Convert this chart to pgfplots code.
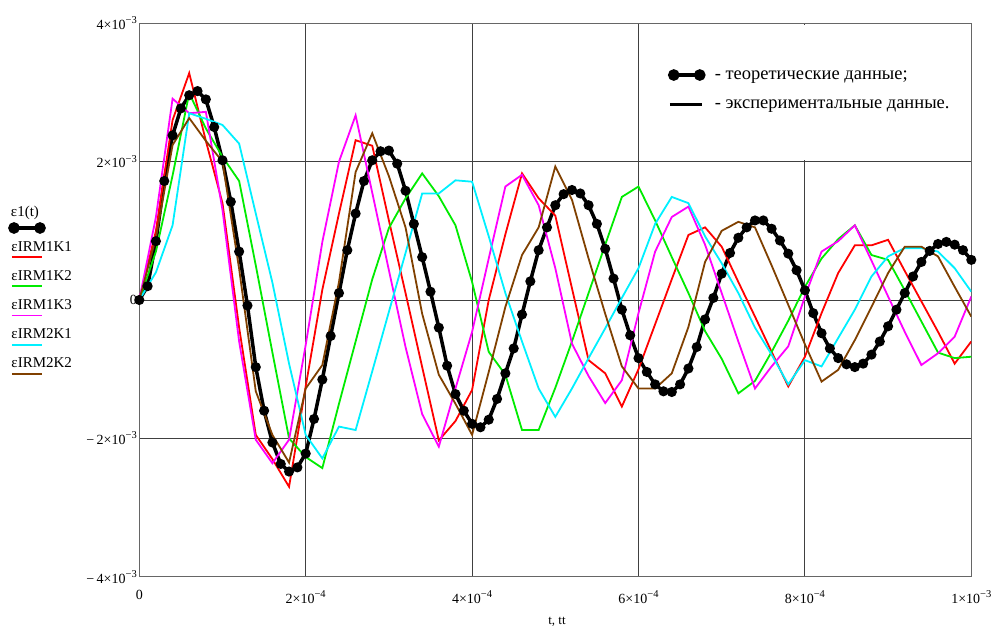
\documentclass[border=0pt]{standalone}
\usepackage{fontspec}
\setmainfont{Liberation Serif}
\usepackage{pgfplots}
\usepackage{pgfplotstable}
\pgfplotsset{compat=1.18}

\definecolor{cred}{RGB}{255,0,0}
\definecolor{cgreen}{RGB}{0,235,0}
\definecolor{cmag}{RGB}{255,0,255}
\definecolor{ccyan}{RGB}{0,240,255}
\definecolor{cbrown}{RGB}{128,64,0}

\newcommand{\sups}[1]{\raisebox{0.42em}{\fontsize{10.5}{10.5}\selectfont #1}}

% t in units of 1e-4, values in units of 1e-3
\pgfplotstableread{
t v
0 0
0.1 0.2
0.2 0.85
0.3 1.72
0.4 2.38
0.5 2.77
0.6 2.96
0.7 3.02
0.8 2.9
0.9 2.5
1.0 2.02
1.1 1.42
1.2 0.7
1.3 -0.08
1.4 -0.97
1.5 -1.6
1.6 -2.06
1.7 -2.37
1.8 -2.48
1.9 -2.42
2.0 -2.22
2.1 -1.72
2.2 -1.15
2.3 -0.52
2.4 0.1
2.5 0.72
2.6 1.25
2.7 1.72
2.8 2.02
2.9 2.15
3.0 2.16
3.1 1.97
3.2 1.58
3.3 1.1
3.4 0.62
3.5 0.12
3.6 -0.4
3.7 -0.95
3.8 -1.36
3.9 -1.6
4.0 -1.79
4.1 -1.84
4.2 -1.73
4.3 -1.43
4.4 -1.06
4.5 -0.7
4.6 -0.21
4.7 0.27
4.8 0.72
4.9 1.05
5.0 1.37
5.1 1.53
5.2 1.59
5.3 1.54
5.4 1.37
5.5 1.1
5.6 0.74
5.7 0.31
5.8 -0.14
5.9 -0.51
6.0 -0.84
6.1 -1.04
6.2 -1.22
6.3 -1.32
6.4 -1.33
6.5 -1.22
6.6 -0.99
6.7 -0.68
6.8 -0.28
6.9 0.03
7.0 0.38
7.1 0.68
7.2 0.9
7.3 1.05
7.4 1.15
7.5 1.15
7.6 1.03
7.7 0.86
7.8 0.67
7.9 0.43
8.0 0.14
8.1 -0.19
8.2 -0.48
8.3 -0.7
8.4 -0.84
8.5 -0.93
8.6 -0.97
8.7 -0.92
8.8 -0.79
8.9 -0.6
9.0 -0.38
9.1 -0.14
9.2 0.1
9.3 0.34
9.4 0.55
9.5 0.71
9.6 0.81
9.7 0.84
9.8 0.8
9.9 0.72
10.0 0.58
}\theory

\pgfplotstableread{
t r g m c b
0 0 0 0 0 0
0.2 1.0 0.7 1.2 0.4 0.9
0.4 2.6 1.8 2.91 1.08 2.24
0.6 3.28 2.99 2.70 2.70 2.63
0.8 2.3 2.48 2.72 2.62 2.3
1.0 1.4 2.07 1.3 2.53 2.0
1.2 -0.4 1.72 -0.6 2.26 0.45
1.4 -1.95 0.5 -2.02 1.25 -1.32
1.6 -2.3 -0.76 -2.36 0.25 -1.95
1.8 -2.70 -2.0 -2.02 -0.92 -2.35
2.0 -1.25 -2.27 -0.65 -1.95 -1.28
2.2 0.15 -2.43 0.84 -2.29 -0.94
2.4 1.25 -1.5 2.0 -1.83 0.26
2.6 2.31 -0.6 2.67 -1.88 1.85
2.8 2.23 0.3 1.55 -1.03 2.41
3.0 1.15 1.04 0.43 -0.17 1.79
3.2 0.1 1.47 -0.68 0.68 1.05
3.4 -0.97 1.83 -1.65 1.54 -0.2
3.6 -2.03 1.5 -2.12 1.54 -1.08
3.8 -1.75 1.08 -1.28 1.73 -1.5
4.0 -1.30 0.26 -0.46 1.71 -1.95
4.2 0.0 -0.75 0.6 0.92 -1.04
4.4 0.95 -1.08 1.64 0.1 -0.1
4.6 1.83 -1.88 1.81 -0.6 0.65
4.8 1.47 -1.88 1.37 -1.28 1.05
5.0 1.22 -1.27 0.46 -1.69 1.93
5.2 0.17 -0.6 -0.63 -1.28 1.45
5.4 -0.87 0.1 -1.1 -0.84 0.6
5.6 -1.06 0.8 -1.49 -0.41 -0.2
5.8 -1.54 1.49 -1.16 0.03 -0.96
6.0 -1.0 1.64 -0.19 0.46 -1.28
6.2 -0.35 1.15 0.7 1.1 -1.28
6.4 0.3 0.62 1.2 1.49 -1.06
6.6 0.94 0.1 1.35 1.4 -0.39
6.8 1.05 -0.45 0.8 0.92 0.55
7.0 0.77 -0.85 0.1 0.53 1.0
7.2 0.26 -1.35 -0.6 0.1 1.13
7.4 -0.24 -1.17 -1.28 -0.4 1.05
7.6 -0.75 -0.75 -0.96 -0.79 0.5
7.8 -1.25 -0.3 -0.67 -1.22 -0.07
8.0 -0.82 0.19 0.05 -0.87 -0.64
8.2 -0.19 0.6 0.70 -0.96 -1.18
8.4 0.39 0.88 0.85 -0.55 -1.01
8.6 0.79 1.08 1.08 -0.14 -0.58
8.8 0.79 0.65 0.57 0.34 -0.1
9.0 0.87 0.58 0.05 0.63 0.39
9.2 0.42 0.14 -0.46 0.75 0.77
9.4 -0.02 -0.31 -0.94 0.75 0.77
9.6 -0.46 -0.76 -0.77 0.70 0.63
9.8 -0.92 -0.84 -0.53 0.46 0.19
10.0 -0.6 -0.82 0.05 0.12 -0.24
}\expdata

\begin{document}
\begin{tikzpicture}
\begin{axis}[
  at={(139.3pt,51.3pt)}, anchor=south west,
  scale only axis, width=832pt, height=553.4pt,
  xmin=0, xmax=10, ymin=-4, ymax=4,
  xtick={0,2,4,6,8,10},
  ytick={-4,-2,0,2,4},
  xticklabels={\mbox{0},
    \mbox{2×10\sups{−4}},
    \mbox{4×10\sups{−4}},
    \mbox{6×10\sups{−4}},
    \mbox{8×10\sups{−4}},
    \mbox{1×10\sups{−3}}},
  yticklabels={\mbox{−\,4×10\sups{−3}},
    \mbox{−\,2×10\sups{−3}},
    \mbox{0},
    \mbox{2×10\sups{−3}},
    \mbox{4×10\sups{−3}}},
  grid=major,
  major grid style={draw=black!75, line width=0.9pt},
  axis line style={draw=black!60, line width=1.5pt},
  major tick length=0pt,
  tick label style={font=\rmfamily\fontsize{14}{16}\selectfont},
  xticklabel style={anchor=north, yshift=-10pt},
  yticklabel style={anchor=east, xshift=1pt},
  xlabel={t, tt},
  xlabel style={at={(rel axis cs:0.502,0)}, anchor=center, yshift=-45pt, font=\rmfamily\fontsize{13}{15}\selectfont},
  legend cell align=left,
  legend style={at={(rel axis cs:0.6355,0.9210)}, anchor=north west,
    draw=none, fill=none, inner sep=0pt, outer sep=0pt,
    row sep=13.5pt, column sep=11pt,
    font=\rmfamily\fontsize{18.5}{21}\selectfont,
    nodes={inner sep=0pt, anchor=west, text height=12pt, text depth=4pt}},
]
\addplot[black, line width=3.5pt, mark=*, mark size=3.2pt,
  legend image code/.code={\draw[black, line width=3.5pt, mark=*, mark size=4pt, mark repeat=1] plot coordinates {(0pt,0pt) (26pt,0pt)};}]
  table[x=t, y=v]{\theory};
\addlegendentry{- теоретические данные;}
\addplot[cred, line width=1.8pt, forget plot] table[x=t, y=r]{\expdata};
\addplot[cgreen, line width=1.8pt, forget plot] table[x=t, y=g]{\expdata};
\addplot[cmag, line width=1.8pt, forget plot] table[x=t, y=m]{\expdata};
\addplot[ccyan, line width=1.8pt, forget plot] table[x=t, y=c]{\expdata};
\addplot[cbrown, line width=1.8pt, forget plot] table[x=t, y=b]{\expdata};
\fill[white] (axis cs:6.015,2.03) rectangle (axis cs:9.985,3.975);
\addlegendimage{legend image code/.code={\draw[black, line width=3.5pt] (-4pt,0pt) -- (28pt,0pt);}}
\addlegendentry{- экспериментальные данные.}
\end{axis}

\begin{axis}[
  at={(139.3pt,51.3pt)}, anchor=south west,
  scale only axis, width=832pt, height=553.4pt,
  hide axis, xmin=0, xmax=1, ymin=0, ymax=1,
  legend style={at={(rel axis cs:-0.15541,0.67167)}, anchor=north west,
    draw=none, fill=none, inner sep=0pt, outer sep=0pt,
    row sep=0.2pt, column sep=0pt, nodes={inner sep=0pt, draw=none}},
]
\addlegendimage{legend image code/.code={%
  \path[draw=none, fill=none] (0pt,-6pt) rectangle (34pt,23pt);
  \draw[black, line width=3.5pt, mark=*, mark size=4pt, mark repeat=1] plot coordinates {(4pt,0pt) (30pt,0pt)};
  \node[draw=none, anchor=base west, inner sep=0pt, font=\rmfamily\fontsize{15}{15}\selectfont] at (1pt,11pt) {ε1(t)};}}
\addlegendentry{}
\addlegendimage{legend image code/.code={%
  \path[draw=none, fill=none] (0pt,-6pt) rectangle (34pt,23pt);
  \draw[cred, line width=1.8pt] (2pt,0pt) -- (32pt,0pt);
  \node[draw=none, anchor=base west, inner sep=0pt, font=\rmfamily\fontsize{15}{15}\selectfont] at (1.5pt,6pt) {εIRM1K1};}}
\addlegendentry{}
\addlegendimage{legend image code/.code={%
  \path[draw=none, fill=none] (0pt,-6pt) rectangle (34pt,23pt);
  \draw[cgreen, line width=1.8pt] (2pt,0pt) -- (32pt,0pt);
  \node[draw=none, anchor=base west, inner sep=0pt, font=\rmfamily\fontsize{15}{15}\selectfont] at (1.5pt,6pt) {εIRM1K2};}}
\addlegendentry{}
\addlegendimage{legend image code/.code={%
  \path[draw=none, fill=none] (0pt,-6pt) rectangle (34pt,23pt);
  \draw[cmag, line width=1.8pt] (2pt,0pt) -- (32pt,0pt);
  \node[draw=none, anchor=base west, inner sep=0pt, font=\rmfamily\fontsize{15}{15}\selectfont] at (1.5pt,6pt) {εIRM1K3};}}
\addlegendentry{}
\addlegendimage{legend image code/.code={%
  \path[draw=none, fill=none] (0pt,-6pt) rectangle (34pt,23pt);
  \draw[ccyan, line width=1.8pt] (2pt,0pt) -- (32pt,0pt);
  \node[draw=none, anchor=base west, inner sep=0pt, font=\rmfamily\fontsize{15}{15}\selectfont] at (1.5pt,6pt) {εIRM2K1};}}
\addlegendentry{}
\addlegendimage{legend image code/.code={%
  \path[draw=none, fill=none] (0pt,-6pt) rectangle (34pt,23pt);
  \draw[cbrown, line width=1.8pt] (2pt,0pt) -- (32pt,0pt);
  \node[draw=none, anchor=base west, inner sep=0pt, font=\rmfamily\fontsize{15}{15}\selectfont] at (1.5pt,6pt) {εIRM2K2};}}
\addlegendentry{}
\end{axis}
\pgfresetboundingbox
\path (0pt,0pt) rectangle (993pt,628pt);
\end{tikzpicture}
\end{document}
